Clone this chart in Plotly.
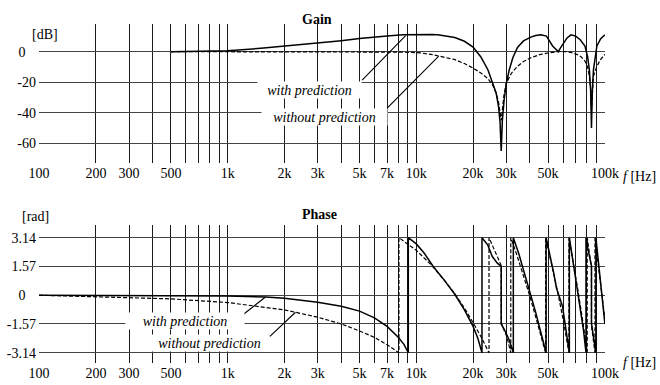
import math
import plotly.graph_objects as go
from plotly.subplots import make_subplots

# ---------------- data ----------------
gain_f_with = [500, 700, 1000, 1500, 2000, 3000, 4000, 5000, 6000, 7000, 8500, 10000, 12000, 13000,
               14500, 16000, 18000, 20000, 22000, 24000, 25300, 26500, 27300, 27800, 28200, 28600,
               29200, 30000, 31100, 32500, 34400, 37000, 40500, 43000, 45800, 49000, 52800, 55000,
               56600, 58500, 60800, 63000, 66100, 70000, 74000, 78400, 81000, 82700, 84000, 84900,
               85800, 87000, 90700, 95000, 100000]
gain_with = [0.0, 0.2, 0.6, 2.2, 3.6, 5.6, 7.2, 8.6, 9.6, 10.3, 11.0, 11.2, 11.2, 11.0,
             10.3, 9.2, 6.8, 3.0, -3.5, -12, -20, -27, -36, -46, -65, -45,
             -32, -21, -12, -4, 2.7, 7.0, 9.5, 10.6, 11.0, 10.2, 3.7, 1.5,
             0.0, 3.0, 6.0, 9.0, 11.0, 10.2, 7.8, 3.7, -3.5, -11.8, -25, -50,
             -25, -11.8, 3.7, 8.5, 11.0]

gain_f_without = [500, 1000, 2000, 5000, 8000, 9500, 10500, 12000, 13500, 15900, 18000, 20000, 22000,
                  23900, 25300, 26500, 27300, 27800, 28200, 28600, 29200, 30000, 32000, 34400, 37000,
                  40500, 45000, 50500, 55000, 58500, 62000, 66000, 71000, 75000, 78400, 81000, 82700,
                  84000, 84900, 85800, 87000, 90700, 95000, 100000]
gain_without = [0, 0, -0.1, -0.2, -0.3, -0.5, -0.8, -1.8, -3.0, -5.1, -7.8, -10.7, -14,
                -17.5, -21.5, -27, -33, -39, -45, -38, -28, -20.7, -14, -9.6, -6.5,
                -4, -2, -0.7, -0.1, 0.1, 0, -0.5, -1.8, -3.5, -6.2, -10, -16,
                -24, -38, -24, -16, -9.6, -5, -1.8]

phase_f_with = [100, 300, 500, 1000, 1590, 2000, 3000, 4000, 5000, 6000, 7000, 8000, 8600, 9070,
                9070, 10000, 11000, 12300, 14000, 16000, 18000, 20000, 21200, 22300,
                22300, 23900, 25300, 26900, 28200,
                28200, 29400, 31100, 32700,
                32700, 35000, 37500, 40500, 43000, 45000, 47000, 48800,
                48800, 50500, 52000, 53700, 55300, 56600, 58000, 59600, 61200, 63000, 64800,
                64800, 67000, 70000, 72500, 75000, 77000, 79400,
                79400, 81000, 82700, 84900,
                84900, 86500, 88000, 89600,
                89600, 92000, 95000, 97500, 100000]
phase_with = [0, -0.01, -0.02, -0.05, -0.1, -0.17, -0.38, -0.6, -0.87, -1.24, -1.7, -2.28, -2.68, -3.14,
              3.14, 2.8, 2.3, 1.57, 0.85, 0.05, -0.8, -1.7, -2.35, -3.14,
              3.14, 2.75, 2.11, 1.75, 1.57,
              -1.57, -1.9, -2.44, -3.14,
              3.14, 2.25, 1.2, 0.0, -0.95, -1.75, -2.45, -3.14,
              3.14, 2.45, 1.85, 1.15, 0.4, 0.1, -0.2, -0.6, -1.4, -2.25, -3.14,
              3.14, 2.2, 1.0, 0.0, -1.0, -1.9, -3.14,
              3.14, 2.6, 2.1, 1.6,
              -1.54, -2.1, -2.6, -3.14,
              3.14, 2.0, 0.7, -0.4, -1.57]

phase_f_without = [100, 300, 500, 1000, 2000, 3000, 4000, 5000, 6000, 7000, 8090,
                   8090, 9000, 10000, 12000, 14000, 16000, 18000, 20000, 22000, 24300,
                   24300, 25700, 27400, 28200,
                   28200, 29000, 30200, 31700,
                   31700, 34000, 37000, 40000, 43000, 46000, 48500,
                   48500, 52000, 56000, 60000, 64500,
                   64500, 68000, 72000, 76000, 80600,
                   80600, 83000, 84900,
                   84900, 86500, 88600,
                   88600, 91000, 94000, 97000, 100000]
phase_without = [0, -0.11, -0.2, -0.4, -0.8, -1.2, -1.57, -1.95, -2.3, -2.7, -3.14,
                 3.14, 2.8, 2.45, 1.65, 0.85, 0.08, -0.7, -1.5, -2.25, -3.14,
                 3.14, 2.57, 1.93, 1.62,
                 -1.52, -1.8, -2.26, -3.14,
                 3.14, 2.25, 1.1, -0.05, -1.2, -2.3, -3.14,
                 3.14, 1.8, 0.25, -1.3, -3.14,
                 3.14, 1.8, 0.25, -1.3, -3.14,
                 3.14, 2.2, 1.5,
                 -1.64, -2.25, -3.14,
                 3.14, 2.2, 1.05, -0.1, -1.3]

x_grid = [100, 200, 300, 400, 500, 600, 700, 800, 900,
          1000, 2000, 3000, 4000, 5000, 6000, 7000, 8000, 9000,
          10000, 20000, 30000, 40000, 50000, 60000, 70000, 80000, 90000, 100000]
x_labels = ["100", "200", "300", "", "500", "", "", "", "",
            "1k", "2k", "3k", "", "5k", "", "7k", "", "",
            "10k", "20k", "30k", "", "50k", "", "", "", "", "100k"]

gain_ticks = [0, -20, -40, -60]
gain_tick_text = ["0\u00a0\u00a0\u00a0", "-20", "-40", "-60"]
phase_ticks = [3.14, 1.57, 0, -1.57, -3.14]
phase_tick_text = ["3.14", "1.57", "0\u00a0\u00a0\u00a0", "-1.57", "-3.14"]

label_with = "with prediction"
label_without = "without prediction"

# ---------------- figure ----------------
FONT = "'Liberation Serif', 'Times New Roman', Times, serif"
fig = make_subplots(rows=2, cols=1, vertical_spacing=0.0)

solid = dict(color="black", width=1.5)
dashed = dict(color="black", width=1.2, dash="4px,2px")

fig.add_trace(go.Scatter(x=gain_f_with, y=gain_with, mode="lines", line=solid,
                         name=label_with, showlegend=False), row=1, col=1)
fig.add_trace(go.Scatter(x=gain_f_without, y=gain_without, mode="lines", line=dashed,
                         name=label_without, showlegend=False), row=1, col=1)
fig.add_trace(go.Scatter(x=phase_f_with, y=phase_with, mode="lines", line=solid,
                         name=label_with, showlegend=False), row=2, col=1)
fig.add_trace(go.Scatter(x=phase_f_without, y=phase_without, mode="lines", line=dashed,
                         name=label_without, showlegend=False), row=2, col=1)

xcommon = dict(type="log", range=[math.log10(100) - 0.0006, math.log10(100000) + 0.0006],
               tickmode="array", tickvals=x_grid, ticktext=x_labels,
               showgrid=True, gridcolor="#1a1a1a", gridwidth=1, automargin=False,
               showline=False, zeroline=False, ticks="",
               tickfont=dict(family=FONT, size=14, color="black"))
fig.update_xaxes(**xcommon, row=1, col=1)
fig.update_xaxes(**xcommon, row=2, col=1)

ycommon = dict(tickmode="array", showgrid=True, gridcolor="#444444", gridwidth=1, zeroline=False,
               showline=False, ticks="", ticklabelstandoff=2, automargin=False,
               tickfont=dict(family=FONT, size=14, color="black"))
fig.update_yaxes(range=[-72.9, 18.1], tickvals=gain_ticks, ticktext=gain_tick_text,
                 domain=[0.590, 1.0], row=1, col=1, **ycommon)
fig.update_yaxes(range=[-3.70, 3.83], tickvals=phase_ticks, ticktext=phase_tick_text,
                 domain=[0.0, 0.407], row=2, col=1, **ycommon)

lg = math.log10
ann = []
# titles / units (paper coordinates)
ann.append(dict(text="<b>Gain</b>", xref="paper", yref="paper", x=(317 - 39) / 566, y=(363 - 10) / 339,
                showarrow=False, font=dict(family=FONT, size=14, color="black")))
ann.append(dict(text="<b>Phase</b>", xref="paper", yref="paper", x=(319.5 - 39) / 566, y=(363 - 214) / 339,
                showarrow=False, font=dict(family=FONT, size=14, color="black")))
ann.append(dict(text="[dB]", xref="paper", yref="paper", x=(29.5 - 39) / 566, y=(363 - 25) / 339,
                showarrow=False, font=dict(family=FONT, size=14, color="black")))
ann.append(dict(text="[rad]", xref="paper", yref="paper", x=(20 - 39) / 566, y=(363 - 216) / 339,
                showarrow=False, font=dict(family=FONT, size=14, color="black")))
for yy in (176.7, 371.7):
    ann.append(dict(text="<i>f</i> [Hz]", xref="paper", yref="paper", x=(621 - 39) / 566,
                    xanchor="left", y=(363 - yy) / 339, showarrow=False,
                    font=dict(family=FONT, size=14, color="black")))

# leader lines (x in log10 units for log axes)
def leader(x, y, ax, ay, xr, yr):
    return dict(x=lg(x), y=y, ax=lg(ax), ay=ay, xref=xr, yref=yr, axref=xr, ayref=yr,
                text="", showarrow=True, arrowhead=0, arrowwidth=1.1, arrowcolor="black",
                standoff=0, startstandoff=0)

ann.append(leader(8780, 10.5, 5070, -19.6, "x", "y"))
ann.append(leader(13150, -3.0, 6880, -38.0, "x", "y"))
ann.append(leader(1585, -0.1, 1168, -1.17, "x2", "y2"))
ann.append(leader(2288, -0.93, 1644, -2.33, "x2", "y2"))

# label boxes
def label(text, lx, y, xr, yr, w):
    return dict(text="<i>" + text + "</i>", x=lx, y=y, xref=xr, yref=yr, showarrow=False,
                bgcolor="white", width=w, height=16, borderpad=0,
                font=dict(family=FONT, size=14, color="black"))

ann.append(label(label_with, 3.432, -25.0, "x", "y", 103))
ann.append(label(label_without, 3.5136, -42.6, "x", "y", 125))
ann.append(label(label_with, 2.775, -1.39, "x2", "y2", 118))
ann.append(label(label_without, 2.9055, -2.59, "x2", "y2", 115))

fig.update_layout(width=660, height=385, margin=dict(l=39, r=55, t=24, b=22, autoexpand=False),
                  paper_bgcolor="white", plot_bgcolor="white",
                  font=dict(family=FONT, size=14, color="black"),
                  annotations=ann, showlegend=False)

fig.write_html("out.html", config={"displayModeBar": False, "staticPlot": True},
               post_script="document.body.style.margin='0px';document.body.style.overflow='hidden';")
